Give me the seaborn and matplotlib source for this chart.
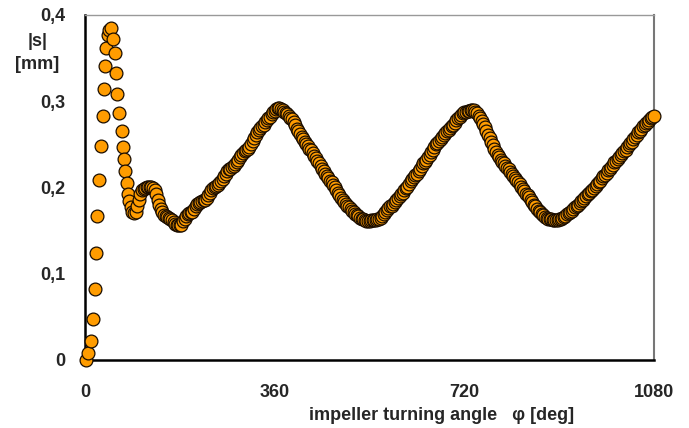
import numpy as np
import pandas as pd
import matplotlib
matplotlib.use("Agg")
import matplotlib.pyplot as plt
import seaborn as sns

# start-up transient, read point by point
angle_start = [1, 6, 12, 16, 19, 21, 23, 26, 30, 34, 36, 38, 40, 43, 46, 49,
               53, 57, 59, 61, 65, 70, 72, 74, 76, 79, 81]
s_start = [0.000, 0.008, 0.022, 0.047, 0.082, 0.124, 0.167, 0.209, 0.248,
           0.283, 0.314, 0.341, 0.362, 0.377, 0.383, 0.385, 0.372, 0.356,
           0.333, 0.308, 0.286, 0.266, 0.247, 0.233, 0.219, 0.205, 0.193]

# after that one reading every 3 deg, 84 ... 1080 (10 per row = 30 deg)
angle_run = np.arange(84, 1081, 3)
s_run = [
    0.184, 0.177, 0.172, 0.170, 0.172, 0.178, 0.186, 0.193, 0.197, 0.198,
    0.199, 0.200, 0.200, 0.200, 0.200, 0.199, 0.197, 0.192, 0.186, 0.180,
    0.175, 0.171, 0.168, 0.167, 0.166, 0.165, 0.164, 0.162, 0.160, 0.158,
    0.157, 0.156, 0.156, 0.157, 0.161, 0.164, 0.167, 0.169, 0.170, 0.171,
    0.172, 0.175, 0.178, 0.181, 0.182, 0.183, 0.184, 0.185, 0.186, 0.188,
    0.191, 0.194, 0.197, 0.199, 0.201, 0.202, 0.203, 0.205, 0.207, 0.210,
    0.213, 0.216, 0.219, 0.221, 0.222, 0.224, 0.225, 0.227, 0.229, 0.232,
    0.235, 0.238, 0.240, 0.242, 0.243, 0.245, 0.247, 0.250, 0.254, 0.257,
    0.261, 0.264, 0.267, 0.269, 0.271, 0.273, 0.276, 0.278, 0.280, 0.282,
    0.285, 0.287, 0.289, 0.291, 0.292, 0.292, 0.291, 0.290, 0.288, 0.286,
    0.285, 0.283, 0.281, 0.279, 0.276, 0.272, 0.268, 0.265, 0.262, 0.259,
    0.256, 0.253, 0.250, 0.248, 0.245, 0.243, 0.240, 0.237, 0.234, 0.231,
    0.228, 0.225, 0.222, 0.219, 0.216, 0.213, 0.211, 0.208, 0.206, 0.203,
    0.200, 0.197, 0.194, 0.191, 0.188, 0.185, 0.183, 0.181, 0.179, 0.177,
    0.175, 0.173, 0.171, 0.169, 0.168, 0.167, 0.165, 0.164, 0.163, 0.162,
    0.161, 0.161, 0.161, 0.162, 0.162, 0.162, 0.162, 0.163, 0.164, 0.165,
    0.167, 0.169, 0.172, 0.174, 0.176, 0.178, 0.179, 0.181, 0.183, 0.185,
    0.188, 0.190, 0.192, 0.194, 0.197, 0.199, 0.201, 0.204, 0.207, 0.210,
    0.212, 0.214, 0.216, 0.219, 0.222, 0.225, 0.228, 0.230, 0.232, 0.235,
    0.238, 0.241, 0.244, 0.247, 0.250, 0.252, 0.254, 0.256, 0.259, 0.261,
    0.263, 0.265, 0.267, 0.269, 0.271, 0.273, 0.275, 0.278, 0.280, 0.282,
    0.284, 0.286, 0.287, 0.288, 0.289, 0.289, 0.290, 0.290, 0.290, 0.288,
    0.286, 0.283, 0.280, 0.277, 0.274, 0.270, 0.266, 0.261, 0.257, 0.253,
    0.249, 0.245, 0.241, 0.238, 0.235, 0.232, 0.230, 0.228, 0.225, 0.223,
    0.221, 0.218, 0.216, 0.213, 0.211, 0.209, 0.206, 0.204, 0.201, 0.198,
    0.196, 0.193, 0.191, 0.189, 0.186, 0.183, 0.180, 0.178, 0.175, 0.173,
    0.171, 0.169, 0.168, 0.166, 0.165, 0.164, 0.163, 0.163, 0.162, 0.162,
    0.162, 0.162, 0.163, 0.164, 0.165, 0.166, 0.167, 0.169, 0.170, 0.172,
    0.173, 0.175, 0.177, 0.178, 0.180, 0.182, 0.184, 0.186, 0.188, 0.190,
    0.192, 0.194, 0.196, 0.197, 0.199, 0.202, 0.204, 0.206, 0.208, 0.211,
    0.213, 0.215, 0.217, 0.220, 0.222, 0.224, 0.226, 0.229, 0.231, 0.233,
    0.235, 0.238, 0.240, 0.242, 0.244, 0.247, 0.249, 0.251, 0.253, 0.256,
    0.258, 0.261, 0.264, 0.266, 0.268, 0.271, 0.273, 0.275, 0.276, 0.278,
    0.280, 0.282, 0.283,
]

x_ticks = [0, 360, 720, 1080]
y_ticks = [0, 0.1, 0.2, 0.3, 0.4]
y_tick_labels = ["0", "0,1", "0,2", "0,3", "0,4"]

df = pd.DataFrame({
    "phi": list(angle_start) + list(angle_run),
    "s": s_start + s_run,
})

sns.set_style("white")
plt.rcParams["font.family"] = ["Liberation Sans", "DejaVu Sans"]

fig = plt.figure(figsize=(6.89, 4.28), dpi=100)
ax = fig.add_axes([0.1234, 0.1589, 0.8258, 0.8061])

ax.set_xticks([360, 720], minor=True)
ax.grid(True, which="minor", axis="x", color="#d8d8d8", lw=1)
ax.set_yticks([0.1, 0.2, 0.3], minor=True)
ax.grid(True, which="minor", axis="y", color="#e2e2e2", lw=1.2)
ax.set_axisbelow(True)

sns.scatterplot(data=df, x="phi", y="s", ax=ax, s=85, color="#ff9c00",
                edgecolor="#1a0d00", linewidth=0.9, clip_on=False, zorder=3)

ax.set_xlim(0, 1080)
ax.set_ylim(0, 0.4)
ax.set_xticks(x_ticks)
ax.set_xticklabels([str(t) for t in x_ticks], fontsize=13, fontweight="bold")
ax.set_yticks(y_ticks)
ax.set_yticklabels(y_tick_labels, fontsize=13, fontweight="bold")
ax.tick_params(which="major", direction="out", length=5, width=1.5, color="black")
ax.tick_params(axis="x", pad=12)
ax.tick_params(axis="y", pad=9)
ax.tick_params(which="minor", length=0)

for side in ["left", "bottom"]:
    ax.spines[side].set_color("black")
    ax.spines[side].set_linewidth(1.8)
ax.spines["top"].set_color("#999999")
ax.spines["top"].set_linewidth(1.0)
ax.spines["right"].set_color("#777777")
ax.spines["right"].set_linewidth(1.5)

ax.set_xlabel("impeller turning angle   φ [deg]", fontsize=13, fontweight="bold")
ax.xaxis.set_label_coords(0.626, -0.135)
ax.set_ylabel("")
fig.text(0.054, 0.903, "|s|", fontsize=13, fontweight="bold", ha="center", va="center")
fig.text(0.054, 0.850, "[mm]", fontsize=13, fontweight="bold", ha="center", va="center")

fig.savefig("out.png", dpi=100)
